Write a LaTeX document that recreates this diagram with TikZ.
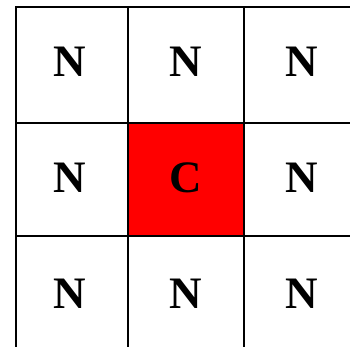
\documentclass[tikz,border=0pt]{standalone}
\usepackage{fontspec}
\setmainfont{Liberation Serif}

\begin{document}
\begin{tikzpicture}[x=1pt,y=-1pt,gridline/.style={draw=black,line width=2.3pt},centre/.style={fill=red,draw=none},cellname/.style={font=\fontsize{45}{45}\selectfont\bfseries,inner sep=0pt}]
\useasboundingbox (0,0) rectangle (350,346);
\begin{scope}
\clip (0,0) rectangle (350,346);
\fill[centre] (128,123) rectangle (244,236);
\draw[gridline] (16,360) -- (16,7) -- (360,7);
\draw[gridline] (128,7) -- (128,360);\draw[gridline] (244,7) -- (244,360);
\draw[gridline] (16,123) -- (360,123);\draw[gridline] (16,236) -- (360,236);
\end{scope}
\node[cellname] (n11) at (70,61.5) {N}; \node[cellname] (n12) at (186,61.5) {N}; \node[cellname] (n13) at (302,61.5) {N};
\node[cellname] (n21) at (70,178) {N}; \node[cellname] (c22) at (186,178) {C}; \node[cellname] (n23) at (302,178) {N};
\node[cellname] (n31) at (70,294) {N}; \node[cellname] (n32) at (186,294) {N}; \node[cellname] (n33) at (302,294) {N};
\end{tikzpicture}
\end{document}
